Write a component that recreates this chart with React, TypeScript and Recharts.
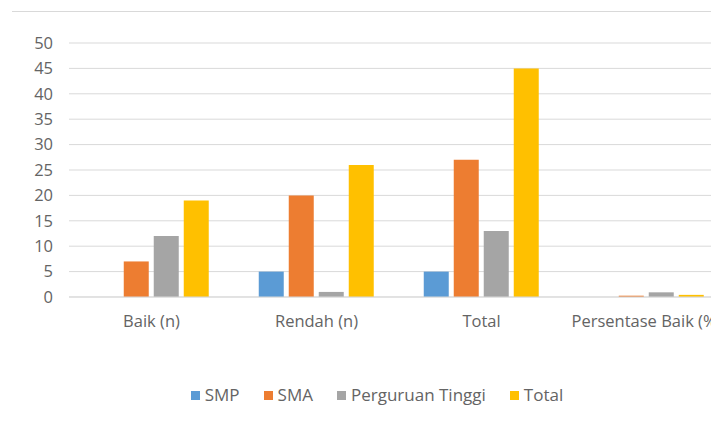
import { BarChart, Bar, XAxis, YAxis, CartesianGrid, Legend } from "recharts";

const categories = ["Baik (n)", "Rendah (n)", "Total", "Persentase Baik (%)"];
const smp = [0, 5, 5, 0];
const sma = [7, 20, 27, 0.26];
const perguruanTinggi = [12, 1, 13, 0.92];
const total = [19, 26, 45, 0.42];
const yTicks = [0, 5, 10, 15, 20, 25, 30, 35, 40, 45, 50];

const series = [
  { key: "SMP", color: "#5B9BD5" },
  { key: "SMA", color: "#ED7D31" },
  { key: "Perguruan Tinggi", color: "#A5A5A5" },
  { key: "Total", color: "#FFC000" },
];

const data = categories.map((name, i) => ({
  name,
  SMP: smp[i],
  SMA: sma[i],
  "Perguruan Tinggi": perguruanTinggi[i],
  Total: total[i],
}));

const FONT = "'Open Sans', 'Liberation Sans', sans-serif";
const TICK = { fontSize: 16.5, fill: "#646464", fontFamily: FONT };

function LegendContent() {
  return (
    <div
      style={{
        display: "flex",
        justifyContent: "center",
        paddingLeft: 17,
        fontFamily: FONT,
        fontSize: 17,
        lineHeight: "20px",
        color: "#646464",
      }}
    >
      {series.map((s) => (
        <div key={s.key} style={{ display: "flex", alignItems: "center", margin: "0 12px" }}>
          <span style={{ width: 9, height: 9, background: s.color, marginRight: 5, display: "inline-block" }} />
          <span>{s.key}</span>
        </div>
      ))}
    </div>
  );
}

export default function App() {
  return (
    <div style={{ position: "relative", width: 711, height: 413, overflow: "hidden", background: "#fff" }}>
      <div style={{ position: "absolute", top: 3, left: 4, right: 0, borderTop: "1px solid #d9d9d9" }} />
      <BarChart
        width={740}
        height={413}
        data={data}
        margin={{ top: 35, right: 19, bottom: 64, left: 0 }}
        barCategoryGap="15%"
        barGap={5}
      >
        <CartesianGrid vertical={false} stroke="#d9d9d9" />
        <XAxis
          dataKey="name"
          axisLine={{ stroke: "#d9d9d9" }}
          tickLine={false}
          tick={TICK}
          tickMargin={12}
          height={40}
          interval={0}
        />
        <YAxis
          width={61}
          domain={[0, 50]}
          ticks={yTicks}
          axisLine={false}
          tickLine={false}
          tick={TICK}
          tickMargin={10}
        />
        <Legend verticalAlign="bottom" content={<LegendContent />} wrapperStyle={{ bottom: 16 }} />
        {series.map((s) => (
          <Bar key={s.key} dataKey={s.key} fill={s.color} isAnimationActive={false} />
        ))}
      </BarChart>
    </div>
  );
}
